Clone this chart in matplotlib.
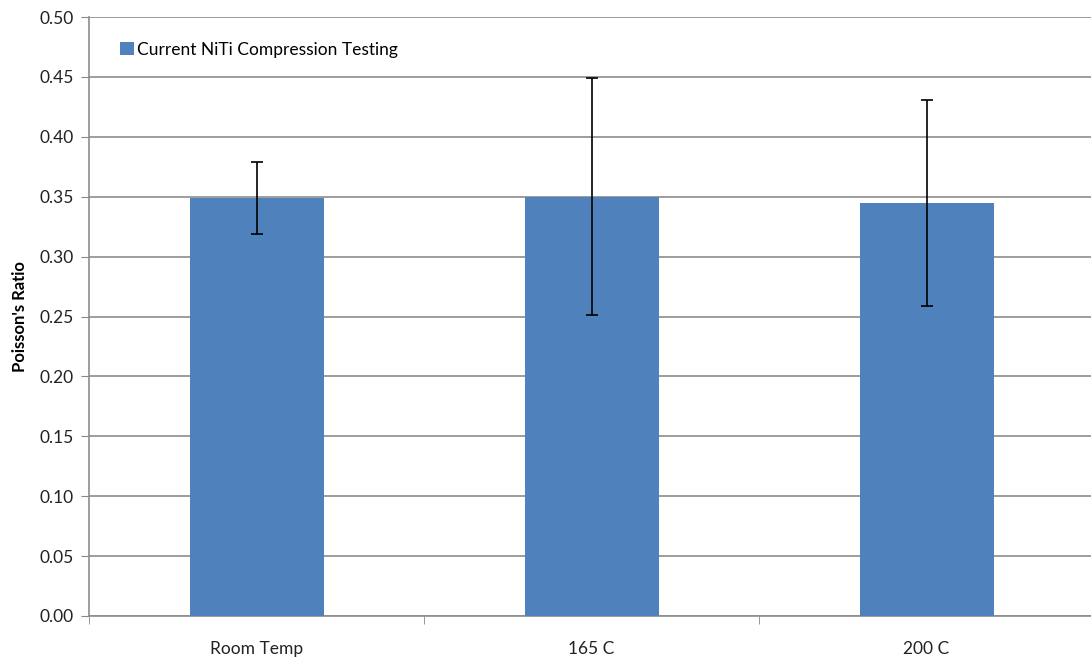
import numpy as np
import matplotlib.pyplot as plt

categories = ['Room Temp', '165 C', '200 C']
poisson = [0.349, 0.350, 0.345]
errors = [0.030, 0.099, 0.086]
yticks = [0.00, 0.05, 0.10, 0.15, 0.20, 0.25, 0.30, 0.35, 0.40, 0.45, 0.50]

plt.rcParams['font.family'] = ['Lato', 'DejaVu Sans']

fig = plt.figure(figsize=(10.91, 6.58), dpi=100)
ax = fig.add_axes([89 / 1091, 42 / 658, 1005 / 1091, 599 / 658])

x = np.arange(len(categories))
ax.bar(x, poisson, width=0.4, color='#4F81BD', zorder=3,
       label='Current NiTi Compression Testing')
ax.errorbar(x, poisson, yerr=errors, fmt='none', ecolor='black',
            elinewidth=1.2, capsize=4, capthick=1.2, zorder=4)

ax.set_xlim(-0.5, len(categories) - 0.5)
ax.set_ylim(0, 0.5)
ax.set_yticks(yticks)
ax.set_yticklabels(['%.2f' % v for v in yticks], fontsize=12.5, color='#222222')
ax.set_xticks(x)
ax.set_xticklabels(categories, fontsize=12.5, color='#222222')
ax.set_xticks(np.arange(-0.5, len(categories)), minor=True)
ax.tick_params(axis='x', which='major', length=0, pad=18)
ax.tick_params(axis='x', which='minor', length=6, color='#888888', direction='out')
ax.tick_params(axis='y', length=6, color='#888888', direction='out', pad=5)

ax.grid(axis='y', color='#8c8c8c', linewidth=1.2, zorder=0)
ax.set_axisbelow(True)
for s in ['top', 'right']:
    ax.spines[s].set_visible(False)
for s in ['left', 'bottom']:
    ax.spines[s].set_color('#8c8c8c')
    ax.spines[s].set_linewidth(1.2)

ax.set_ylabel("Poisson's Ratio", fontsize=12, fontweight='bold', labelpad=8)

ax.legend(loc='upper left', bbox_to_anchor=(0.015, 0.985), frameon=False,
          fontsize=12.5, handlelength=0.8, handleheight=0.8, handletextpad=0.2)

fig.savefig('out.png', dpi=100)
